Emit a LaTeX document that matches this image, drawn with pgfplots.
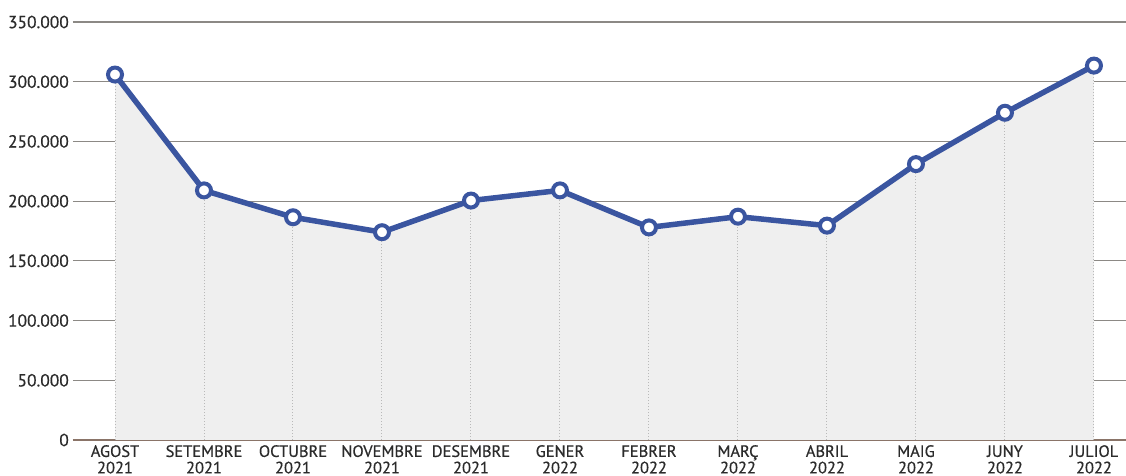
\documentclass[border=0pt]{standalone}
\usepackage{pgfplots}
\pgfplotsset{compat=1.18}
\usepackage{fontspec}
\setmainfont{PT Sans}[FakeBold=0.6]
\definecolor{lineblue}{HTML}{3A55A0}
\definecolor{gridc}{HTML}{8C8985}
\definecolor{zeroc}{HTML}{8A7468}
\definecolor{fillc}{HTML}{EFEFEF}
\definecolor{txt}{HTML}{2B2B2B}
\begin{document}
\begin{tikzpicture}
\path[use as bounding box] (-73bp,-36bp) rectangle (1053bp,440bp);
\begin{axis}[
  at={(0,0)}, anchor=south west,
  scale only axis, width=1053bp, height=418bp,
  xmin=-0.472, xmax=11.36, ymin=0, ymax=350000,
  clip=false,
  axis x line*=bottom, axis y line*=left,
  x axis line style={draw=zeroc, line width=1.2bp, -},
  y axis line style={draw=none},
  major tick length=0pt,
  xtick={0,...,11},
  xticklabels={AGOST\\2021,SETEMBRE\\2021,OCTUBRE\\2021,NOVEMBRE\\2021,DESEMBRE\\2021,GENER\\2022,FEBRER\\2022,MARÇ\\2022,ABRIL\\2022,MAIG\\2022,JUNY\\2022,JULIOL\\2022},
  xticklabel style={align=center, font=\fontsize{16.5}{16.5}\selectfont, text=txt, inner sep=0pt, yshift=-5bp},
  ytick={0,50000,...,350000},
  scaled y ticks=false,
  yticklabel style={font=\fontsize{17.5}{17}\selectfont, text=txt, inner sep=0pt, xshift=-4bp,
    /pgf/number format/.cd, 1000 sep={.}, fixed, assume math mode=true},
  ymajorgrids, grid style={draw=gridc, line width=1.1bp},
]
\addplot[fill=fillc, draw=none] coordinates {(0,306000) (1,209000) (2,186500) (3,174000) (4,200500) (5,209000) (6,178000) (7,187000) (8,179500) (9,231000) (10,274000) (11,313500)} \closedcycle;
\addplot[ycomb, draw=gray!55, dotted, line width=1bp] coordinates {(0,306000) (1,209000) (2,186500) (3,174000) (4,200500) (5,209000) (6,178000) (7,187000) (8,179500) (9,231000) (10,274000) (11,313500)};
\addplot[draw=lineblue, line width=5.5bp, mark=*, mark size=7bp, mark options={fill=white, draw=lineblue, line width=4bp}] coordinates {(0,306000) (1,209000) (2,186500) (3,174000) (4,200500) (5,209000) (6,178000) (7,187000) (8,179500) (9,231000) (10,274000) (11,313500)};
\end{axis}
\end{tikzpicture}
\end{document}
